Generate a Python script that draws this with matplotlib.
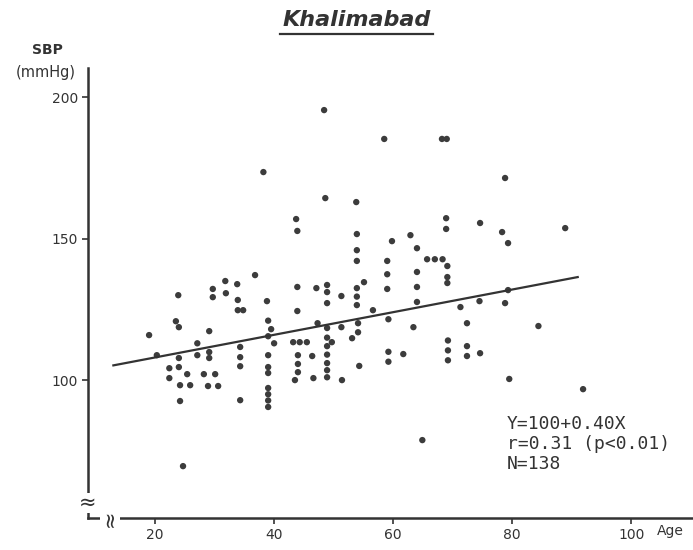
import matplotlib
matplotlib.use("Agg")
import numpy as np
import matplotlib.pyplot as plt
from matplotlib.lines import Line2D

# age (years) and systolic blood pressure (mmHg) of each subject
age = [19.0, 20.3, 22.4, 22.4, 23.5, 24.0, 23.9, 24.0, 24.0, 24.2,
       25.9, 25.4, 24.2, 24.7, 27.1, 27.1, 28.2, 28.9, 29.1, 29.1,
       29.1, 29.7, 29.7, 30.1, 30.6, 31.8, 31.9, 33.8, 33.9, 33.9,
       34.8, 34.3, 34.3, 34.3, 34.3, 36.8, 38.2, 38.8, 39.0, 39.5,
       39.0, 40.0, 39.0, 39.0, 39.0, 39.0, 39.0, 39.0, 39.0, 43.2,
       44.3, 45.5, 43.5, 43.7, 43.9, 43.9, 43.9, 44.0, 44.0, 44.0,
       46.4, 46.6, 47.1, 47.3, 48.4, 48.6, 48.9, 48.9, 48.9, 48.9,
       48.9, 48.9, 48.9, 48.9, 48.9, 48.9, 49.7, 51.3, 51.3, 51.4,
       53.1, 53.8, 53.9, 53.9, 53.9, 53.9, 53.9, 53.9, 54.1, 54.1,
       54.3, 55.1, 56.6, 58.5, 59.0, 59.0, 59.0, 59.2, 59.2, 59.2,
       59.8, 61.7, 62.9, 63.4, 64.0, 64.0, 64.0, 64.0, 64.9, 65.7,
       67.0, 68.3, 68.2, 69.0, 68.9, 68.9, 69.1, 69.1, 69.1, 69.2,
       69.2, 69.2, 71.3, 72.4, 72.4, 72.4, 74.5, 74.6, 74.6, 78.3,
       78.8, 79.3, 79.3, 78.8, 79.5, 84.4, 88.9, 91.9]
sbp = [115.9, 108.8, 104.2, 100.7, 120.8, 118.7, 130.0, 107.8, 104.6, 98.2,
       98.2, 102.1, 92.6, 69.6, 113.0, 108.8, 102.1, 97.9, 117.3, 109.9,
       107.8, 132.2, 129.3, 102.1, 97.9, 135.0, 130.7, 133.9, 128.3, 124.7,
       124.7, 111.7, 108.1, 104.9, 92.9, 137.1, 173.5, 127.9, 121.0, 118.0,
       115.5, 113.0, 108.8, 104.6, 102.5, 97.2, 95.0, 92.8, 90.5, 113.4,
       113.4, 113.4, 100.0, 156.9, 152.7, 132.9, 124.4, 108.8, 105.7, 102.8,
       108.5, 100.7, 132.5, 120.1, 195.4, 164.3, 133.6, 131.1, 127.2, 118.4,
       115.0, 112.0, 109.0, 106.0, 103.5, 101.0, 113.4, 129.7, 118.7, 100.0,
       114.8, 162.9, 151.6, 145.9, 142.1, 132.5, 129.5, 126.5, 120.1, 116.9,
       105.0, 134.6, 124.7, 185.2, 142.1, 137.4, 132.2, 121.5, 110.0, 106.5,
       149.1, 109.2, 151.2, 118.7, 146.6, 138.2, 132.9, 127.6, 78.8, 142.7,
       142.7, 142.7, 185.2, 185.2, 157.2, 153.4, 140.3, 136.4, 134.3, 114.0,
       110.5, 107.0, 125.8, 120.1, 112.0, 108.5, 127.9, 155.5, 109.5, 152.3,
       171.4, 148.4, 131.8, 127.2, 100.4, 119.1, 153.7, 96.8]

# regression Y = a + bX
intercept = 100
slope = 0.40
r_value = 0.31
line_age = [13, 91]

x_ticks = [20, 40, 60, 80, 100]
y_ticks = [100, 150, 200]

ink = "#333333"

fig = plt.figure(figsize=(6.93, 5.5), dpi=100)
ax = fig.add_axes([0.127, 0.058, 0.872, 0.818])

ax.scatter(age, sbp, s=21, color="#3c3c3c", edgecolors="none", zorder=3)
line_x = np.array(line_age)
ax.plot(line_x, intercept + slope * line_x, color=ink, lw=1.6, zorder=4)

ax.set_xlim(8.74, 110.25)
ax.set_ylim(51.24, 210.2)
ax.set_xticks(x_ticks)
ax.set_yticks(y_ticks)
ax.tick_params(direction="out", length=4, width=1.2, colors=ink,
               labelsize=10, pad=3)

for side in ["top", "right"]:
    ax.spines[side].set_visible(False)
for side in ["left", "bottom"]:
    ax.spines[side].set_linewidth(1.8)
    ax.spines[side].set_color(ink)

# axis break marks
ax.text(8.74, 56.5, "≈", ha="center", va="center", fontsize=15, color=ink,
        clip_on=False, zorder=5,
        bbox=dict(facecolor="white", edgecolor="none", pad=0))
ax.text(12.4, 51.24, "≈", ha="center", va="center", fontsize=15, color=ink,
        rotation=90, clip_on=False, zorder=5,
        bbox=dict(facecolor="white", edgecolor="none", pad=0))

ax.text(106.5, 46.6, "Age", ha="center", va="center", fontsize=10,
        color=ink, clip_on=False)
fig.text(47 / 693, 1 - 50 / 550, "SBP", ha="center", va="center",
         fontsize=10, weight="bold", color=ink)
fig.text(46 / 693, 1 - 72 / 550, "(mmHg)", ha="center", va="center",
         fontsize=10.5, color=ink)

stats = "Y=%d+%.2fX\nr=%.2f (p<0.01)\nN=%d" % (intercept, slope, r_value, len(age))
fig.text(507 / 693, 1 - 415 / 550, stats, ha="left", va="top",
         fontsize=13, family="DejaVu Sans Mono", color=ink, linespacing=1.15)

title = fig.text(357 / 693, 1 - 20 / 550, "Khalimabad", ha="center",
                 va="center", fontsize=16, style="italic", weight="bold",
                 color=ink)

# underline the title
fig.canvas.draw()
bb = title.get_window_extent()
w, h = fig.canvas.get_width_height()
uy = bb.y0 - 4
fig.add_artist(Line2D([(bb.x0 - 3) / w, (bb.x1 + 2) / w], [uy / h, uy / h],
                      color=ink, lw=1.6))

fig.savefig("out.png", dpi=100)
